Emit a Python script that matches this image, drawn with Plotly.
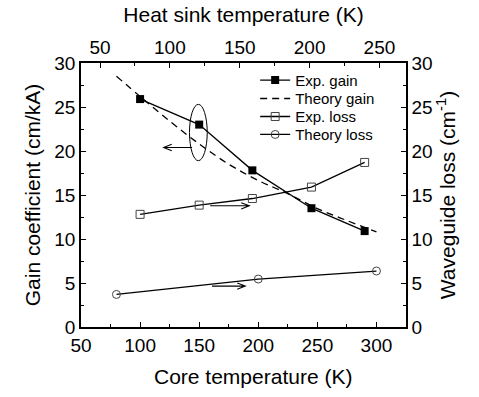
import plotly.graph_objects as go

# ---- data ----
exp_gain_T = [100, 150, 195, 245, 290]
exp_gain = [25.9, 23.0, 17.8, 13.5, 10.9]

theory_gain_T = [80, 100, 125, 150, 175, 200, 225, 250, 275, 300]
theory_gain = [28.5, 26.2, 23.4, 20.8, 18.5, 16.65, 15.15, 13.45, 12.1, 10.8]

exp_loss_T = [100, 150, 195, 245, 290]
exp_loss = [12.8, 13.85, 14.6, 15.9, 18.7]

theory_loss_T = [80, 200, 300]
theory_loss = [3.7, 5.45, 6.36]

core_ticks = [50, 100, 150, 200, 250, 300]
sink_ticks = [50, 100, 150, 200, 250]
y_ticks = [0, 5, 10, 15, 20, 25, 30]

FONT = "Liberation Sans, Arial, sans-serif"
LW = 1.3

fig = go.Figure()
fig.add_trace(go.Scatter(x=exp_gain_T, y=exp_gain, name="Exp. gain", mode="lines+markers",
                         legend="legend",
                         line=dict(color="black", width=LW),
                         marker=dict(symbol="square", size=8, color="black")))
fig.add_trace(go.Scatter(x=theory_gain_T, y=theory_gain, name="Theory gain", mode="lines",
                         legend="legend2",
                         line=dict(color="black", width=LW, dash="7px,5px", shape="spline")))
fig.add_trace(go.Scatter(x=exp_loss_T, y=exp_loss, name="Exp. loss", mode="lines+markers",
                         yaxis="y2", legend="legend3",
                         line=dict(color="black", width=LW),
                         marker=dict(symbol="square-open", size=8, color="#444",
                                     line=dict(width=1))))
fig.add_trace(go.Scatter(x=theory_loss_T, y=theory_loss, name="Theory loss", mode="lines+markers",
                         yaxis="y2", legend="legend4",
                         line=dict(color="black", width=LW),
                         marker=dict(symbol="circle-open", size=8, color="#444",
                                     line=dict(width=1))))
# invisible trace to activate top axis
fig.add_trace(go.Scatter(x=[sink_ticks[0]], y=[0], xaxis="x2", mode="markers",
                         marker=dict(opacity=0), showlegend=False, hoverinfo="skip"))

# ---- annotations: arrows and ellipse ----
def arrow_path(x0, x1, y, back=6.8, half=0.36):
    d = 1 if x1 > x0 else -1
    return (f"M {x0} {y} L {x1} {y} "
            f"M {x1 - d*back} {y + half} L {x1} {y} L {x1 - d*back} {y - half}")

shapes = [
    dict(type="path", xref="x", yref="y", path=arrow_path(144, 120, 20.4),
         line=dict(color="black", width=1.1)),
    dict(type="path", xref="x", yref="y", path=arrow_path(159.3, 192.4, 13.77),
         line=dict(color="black", width=1.1)),
    dict(type="path", xref="x", yref="y", path=arrow_path(160.8, 189, 4.65),
         line=dict(color="black", width=1.1)),
    dict(type="circle", xref="x", yref="y", x0=141.8, x1=156.8, y0=18.9, y1=25.3,
         line=dict(color="black", width=1)),
]

axis_common = dict(showgrid=False, zeroline=False, showline=True, linecolor="black",
                   linewidth=1.5, ticks="inside", ticklen=5, tickwidth=1.2,
                   tickcolor="black", tickfont=dict(family=FONT, size=19, color="black"))

def leg(ypx):
    return dict(x=(255 - 81) / 324.7, y=(327 - ypx) / 264.3, xanchor="left", yanchor="middle",
                bgcolor="rgba(0,0,0,0)", font=dict(family=FONT, size=15, color="black"),
                itemwidth=30)

fig.update_layout(
    width=479, height=397,
    margin=dict(l=81, r=73, t=63, b=70),
    paper_bgcolor="white", plot_bgcolor="white",
    font=dict(family=FONT, color="black"),
    showlegend=True,
    legend=leg(80), legend2=leg(98.5), legend3=leg(116.5), legend4=leg(134.5),
    shapes=shapes,
    annotations=[dict(text="Core temperature (K)", xref="paper", yref="paper",
                      x=(253 - 81) / 324.7, y=(327 - 377) / 264.3,
                      xanchor="center", yanchor="middle", showarrow=False,
                      font=dict(family=FONT, size=21, color="black"))],
    xaxis=dict(**axis_common, range=[50, 325], tickvals=core_ticks,
               minor=dict(dtick=25, ticklen=3, ticks="inside", tickcolor="black")),
    xaxis2=dict(**axis_common, range=[36.4, 269], tickvals=sink_ticks, overlaying="x",
                side="top", anchor="y",
                minor=dict(dtick=25, ticklen=3, ticks="inside", tickcolor="black"),
                title=dict(text="Heat sink temperature (K)", font=dict(family=FONT, size=21), standoff=8)),
    yaxis=dict(**axis_common, range=[0, 30], tickvals=y_ticks,
               minor=dict(dtick=2.5, ticklen=3, ticks="inside", tickcolor="black"),
               title=dict(text="Gain coefficient (cm/kA)", font=dict(family=FONT, size=21), standoff=8)),
    yaxis2=dict(**axis_common, range=[0, 30], tickvals=y_ticks, overlaying="y", side="right",
                minor=dict(dtick=2.5, ticklen=3, ticks="inside", tickcolor="black"),
                title=dict(text="Waveguide loss (cm<sup>-1</sup>)", font=dict(family=FONT, size=21), standoff=8)),
)

fig.write_html("out.html")
